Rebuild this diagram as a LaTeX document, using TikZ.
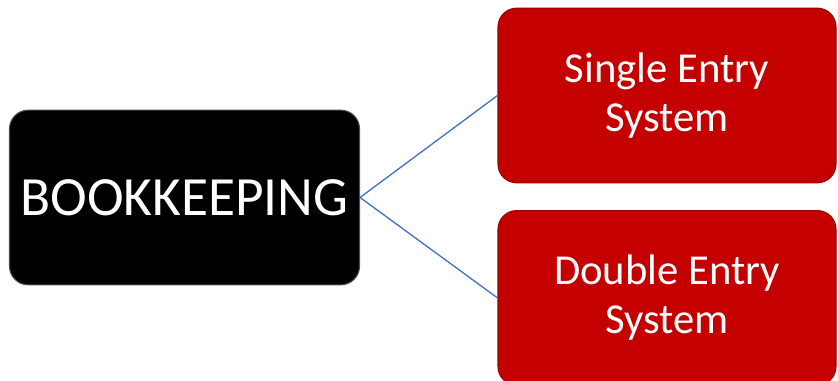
\documentclass[tikz,border=0pt]{standalone}
\usepackage{fontspec}
\setmainfont{Carlito}
\usepackage{tikz}
\usetikzlibrary{positioning}
\definecolor{boxred}{HTML}{C40000}
\definecolor{linkblue}{HTML}{4472C4}
\tikzset {
rootbox/.style={shape=rectangle,rounded corners=14pt,fill=black,draw=black!70,line width=0.8pt,text=white,minimum width=262.5pt,minimum height=131pt,inner sep=0pt,font=\fontsize{41.5}{48}\selectfont},
branchbox/.style={shape=rectangle,rounded corners=14pt,fill=boxred,draw=boxred!80!black,line width=0.8pt,text=white,minimum width=253.5pt,minimum height=131pt,inner sep=0pt,align=center,font=\fontsize{32}{36.5}\selectfont},
link/.style={draw=linkblue,line width=1pt}
}
\begin{document}
\begin{tikzpicture}
[x=0.75pt,y=-0.75pt]
\useasboundingbox[fill=white] (0,0) rectangle (838,381);
\node[rootbox] (bookkeeping) at (184.5,197.5) {BOOKKEEPING};
\node[branchbox] (single entry) at (667,95.5) {Single Entry\\System};
\node[branchbox] (double entry) [below=20pt of single entry] {Double Entry\\System};

\draw[link] (bookkeeping.east) to (single entry.west);
\draw[link] (bookkeeping.east) to (double entry.west);
\end{tikzpicture}
\end{document}
